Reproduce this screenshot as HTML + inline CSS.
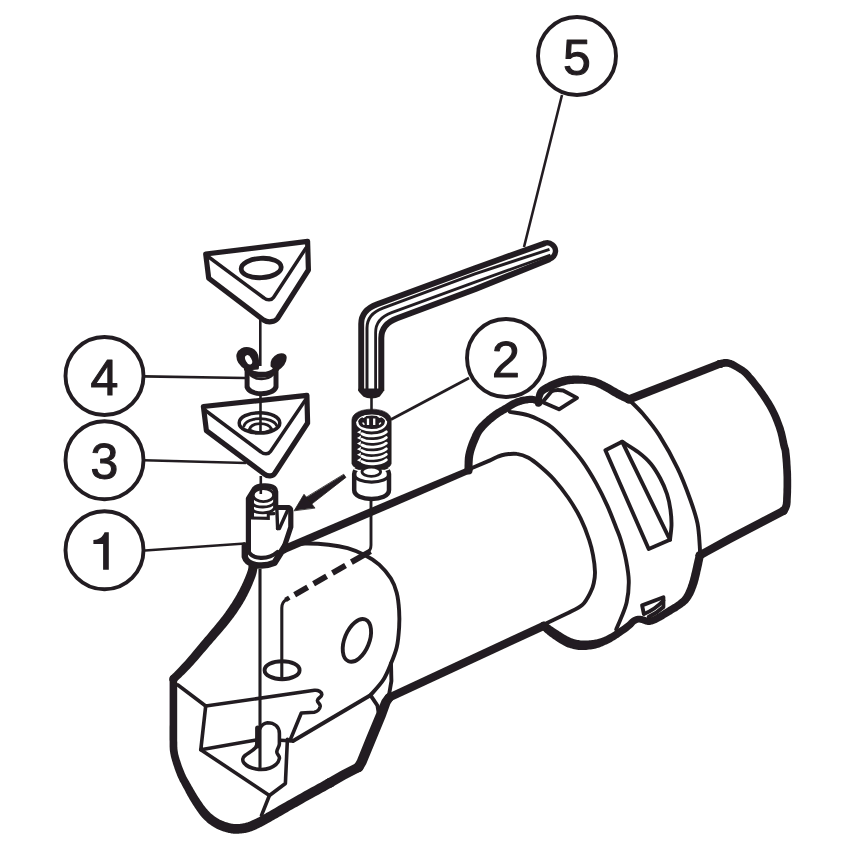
<!DOCTYPE html>
<html><head><meta charset="utf-8">
<style>
html,body{margin:0;padding:0;background:#fff;}
body{width:854px;height:854px;overflow:hidden;font-family:"Liberation Sans",sans-serif;}
svg{display:block}
path,ellipse,circle{stroke-linecap:round;stroke-linejoin:round}
.k{fill:none;stroke:#231f20;stroke-width:5}
.k2{fill:none;stroke:#231f20;stroke-width:5.2}
.k6{fill:none;stroke:#231f20;stroke-width:8.6}
.t2{fill:none;stroke:#231f20;stroke-width:3.9}
.t3{fill:none;stroke:#231f20;stroke-width:3.6}
.m{fill:none;stroke:#231f20;stroke-width:3.5}
.t{fill:none;stroke:#231f20;stroke-width:2.7}
.l{fill:none;stroke:#231f20;stroke-width:2.6;stroke-linecap:butt}
.c{fill:#fff;stroke:#231f20;stroke-width:3.9}
.f{fill:#231f20;stroke:#231f20;stroke-linejoin:round}
text{font-family:"Liberation Sans",sans-serif;font-size:50px;fill:#231f20;stroke:#231f20;stroke-width:1.1;stroke-linejoin:round;text-anchor:middle}
</style></head><body>
<svg width="854" height="854" viewBox="0 0 854 854">
<defs><filter id="soft" x="0" y="0" width="854" height="854" filterUnits="userSpaceOnUse"><feGaussianBlur stdDeviation="0.42"/></filter></defs>
<rect width="854" height="854" fill="#fff"/>
<g filter="url(#soft)">

<g id="leaders">
<path class="l" style="stroke-width:2.8" d="M469.0 378.0L391.0 419.5"/>
<path class="l" d="M562.0 95.0L524.0 247.0"/>
<path class="l" d="M144.0 376.4L245.0 378.0"/>
<path class="l" d="M144.0 460.2L246.0 463.0"/>
<path class="l" d="M145.0 550.5L245.0 543.5"/>
</g>
<g id="callouts">
<circle class="c" cx="577" cy="56" r="39"/>
<text x="577" y="74.5">5</text>
<circle class="c" cx="506" cy="358" r="39"/>
<text x="506" y="376.5">2</text>
<circle class="c" cx="104.5" cy="376" r="39"/>
<text x="104.5" y="394.5">4</text>
<circle class="c" cx="104.5" cy="460.2" r="39"/>
<text x="104.5" y="478.7">3</text>
<circle class="c" cx="104.5" cy="550.2" r="39"/>
<path fill="#231f20" d="M103.1 569.8L103.1 543.9L93.4 543.9L93.4 540C98.5 539.8 102.6 537.3 104.6 532.2L108.8 532.2L108.8 569.8Z"/>
</g>
<g id="body">
<path fill="#231f20" d="M284.6 553.3L391.6 507.6L469.8 473.5L467.2 467.5L388.4 500.4L281.4 546.1Z"/><circle cx="283.0" cy="549.7" r="3.95" fill="#231f20"/><circle cx="468.5" cy="470.5" r="3.25" fill="#231f20"/>
<path fill="#231f20" d="M472.5 470.6L472.6 469.7L472.6 468.4L472.6 467.0L472.6 465.5L472.6 463.8L472.7 462.1L472.8 460.4L472.9 458.8L473.1 457.2L473.3 455.8L473.6 454.5L473.9 453.1L474.3 451.6L474.7 450.2L475.2 448.8L475.7 447.3L476.2 445.9L476.7 444.5L477.3 443.2L477.8 441.9L478.4 440.6L478.9 439.4L479.4 438.2L479.9 437.1L480.4 436.1L480.9 435.1L481.5 434.1L482.1 433.1L482.9 432.1L483.7 431.0L484.6 429.9L485.6 428.8L486.8 427.5L488.0 426.3L489.3 425.1L490.7 423.8L492.0 422.6L493.4 421.5L494.6 420.4L495.8 419.4L497.0 418.5L498.1 417.7L499.2 417.0L500.2 416.3L501.3 415.6L502.4 414.9L503.6 414.3L504.7 413.6L505.9 412.9L507.1 412.2L508.3 411.5L509.5 410.7L510.6 410.0L511.8 409.3L512.9 408.6L514.0 407.9L515.1 407.3L516.1 406.7L517.2 406.2L518.2 405.8L519.2 405.4L520.3 405.0L521.5 404.7L522.6 404.3L523.8 404.1L524.9 403.8L526.0 403.6L527.1 403.4L528.1 403.3L528.9 403.1L529.7 403.0L530.3 403.0L530.9 403.0L531.4 403.0L531.9 403.0L532.3 403.0L532.7 403.1L533.1 403.2L533.5 403.3L533.9 403.4L534.1 403.4L534.3 403.5L534.6 403.7L534.9 403.9L535.2 404.1L535.5 404.4L535.9 404.7L536.2 405.0L536.6 405.3L536.9 405.5L541.1 400.1L541.0 400.0L540.8 399.8L540.5 399.5L540.1 399.1L539.6 398.7L539.1 398.3L538.5 397.8L537.8 397.4L537.0 397.0L536.1 396.6L535.4 396.4L534.8 396.2L534.1 396.1L533.4 395.9L532.6 395.8L531.8 395.7L530.9 395.7L530.0 395.7L529.1 395.8L528.1 395.9L527.0 396.0L525.9 396.2L524.7 396.4L523.5 396.6L522.2 396.8L520.8 397.1L519.5 397.5L518.1 397.9L516.7 398.3L515.4 398.8L514.1 399.4L512.8 400.0L511.5 400.6L510.2 401.3L509.0 402.0L507.8 402.8L506.6 403.5L505.4 404.2L504.3 404.9L503.1 405.6L502.0 406.3L500.9 406.9L499.7 407.5L498.5 408.2L497.3 408.9L496.1 409.6L494.8 410.4L493.6 411.3L492.3 412.2L491.0 413.2L489.6 414.3L488.2 415.4L486.8 416.6L485.4 417.9L483.9 419.2L482.5 420.5L481.1 421.9L479.7 423.3L478.5 424.6L477.3 426.0L476.3 427.3L475.4 428.6L474.6 429.9L473.9 431.1L473.2 432.4L472.6 433.6L472.0 434.9L471.5 436.2L470.9 437.4L470.4 438.7L469.8 440.1L469.2 441.6L468.6 443.1L468.1 444.6L467.5 446.2L467.0 447.8L466.5 449.4L466.1 451.0L465.7 452.7L465.3 454.4L465.0 456.2L464.8 458.0L464.7 459.9L464.6 461.8L464.6 463.6L464.5 465.4L464.5 467.0L464.5 468.4L464.5 469.5L464.5 470.4Z"/><circle cx="468.5" cy="470.5" r="4.05" fill="#231f20"/><circle cx="539.0" cy="402.8" r="3.45" fill="#231f20"/>
<path fill="#231f20" d="M541.5 403.9L541.6 403.4L541.7 402.7L541.8 402.0L541.9 401.2L542.0 400.4L542.1 399.6L542.2 398.8L542.4 398.1L542.5 397.5L542.7 397.0L542.9 396.5L543.1 395.9L543.3 395.5L543.5 395.1L543.7 394.8L543.8 394.5L544.0 394.3L544.3 394.0L544.6 393.8L545.0 393.5L545.5 393.1L546.1 392.7L546.8 392.3L547.6 391.9L548.6 391.4L549.5 391.0L550.5 390.5L551.6 390.1L552.6 389.6L553.7 389.2L554.7 388.8L555.8 388.3L557.0 387.8L558.2 387.4L559.4 387.0L560.6 386.5L561.7 386.1L562.8 385.8L563.9 385.5L564.9 385.2L565.7 384.9L566.5 384.7L567.2 384.6L567.9 384.4L568.5 384.3L569.1 384.2L569.8 384.2L570.5 384.1L571.3 384.0L572.2 383.9L573.2 383.9L574.2 383.8L575.3 383.8L576.4 383.7L577.5 383.7L578.6 383.7L579.7 383.7L580.8 383.7L581.9 383.8L583.0 383.8L584.2 383.9L585.3 384.1L586.4 384.2L587.5 384.3L588.6 384.5L589.7 384.7L590.7 384.9L591.8 385.2L592.8 385.4L593.9 385.8L594.9 386.1L595.9 386.5L597.0 387.0L598.1 387.5L599.2 388.0L600.3 388.6L601.4 389.2L602.6 389.8L603.7 390.5L604.9 391.1L606.0 391.7L607.1 392.3L608.3 393.0L609.4 393.7L610.6 394.4L611.8 395.2L613.0 395.9L614.2 396.6L615.4 397.3L616.5 398.0L617.8 398.6L619.0 399.2L620.3 399.8L621.6 400.4L622.8 401.0L624.0 401.5L625.0 402.0L626.0 402.4L626.8 402.8L627.4 403.1L630.8 395.7L630.2 395.4L629.4 395.0L628.4 394.6L627.4 394.1L626.3 393.6L625.1 393.0L623.9 392.4L622.7 391.8L621.5 391.2L620.5 390.6L619.4 390.1L618.3 389.5L617.2 388.8L616.0 388.1L614.8 387.4L613.6 386.7L612.4 386.0L611.2 385.3L609.9 384.6L608.7 383.9L607.5 383.3L606.3 382.7L605.1 382.1L603.9 381.5L602.7 380.9L601.5 380.3L600.2 379.7L598.9 379.2L597.6 378.7L596.3 378.2L595.0 377.8L593.7 377.5L592.4 377.2L591.1 376.9L589.9 376.7L588.6 376.5L587.4 376.4L586.2 376.2L585.0 376.1L583.8 376.0L582.5 375.8L581.3 375.7L580.0 375.7L578.7 375.6L577.5 375.6L576.3 375.6L575.1 375.6L573.9 375.6L572.8 375.6L571.8 375.7L570.8 375.7L569.9 375.8L569.0 375.8L568.1 375.9L567.3 376.0L566.4 376.2L565.5 376.3L564.6 376.5L563.6 376.7L562.5 377.0L561.4 377.3L560.2 377.7L559.0 378.1L557.8 378.6L556.5 379.1L555.2 379.6L553.9 380.1L552.7 380.6L551.5 381.1L550.3 381.6L549.2 382.1L548.2 382.6L547.1 383.2L546.0 383.7L544.9 384.3L543.8 384.9L542.8 385.5L541.8 386.2L540.9 386.8L540.0 387.5L539.3 388.3L538.6 389.0L538.0 389.8L537.5 390.6L537.1 391.4L536.7 392.2L536.5 392.9L536.3 393.6L536.1 394.3L535.9 395.0L535.7 395.9L535.5 396.9L535.4 397.8L535.3 398.8L535.2 399.8L535.2 400.7L535.1 401.5L535.1 402.2L535.1 402.7L535.1 403.1Z"/><circle cx="538.3" cy="403.5" r="3.25" fill="#231f20"/><circle cx="629.1" cy="399.4" r="4.05" fill="#231f20"/>
<path fill="#231f20" d="M630.6 403.2L721.3 367.6L718.5 360.2L627.6 395.6Z"/><circle cx="629.1" cy="399.4" r="4.05" fill="#231f20"/><circle cx="719.9" cy="363.9" r="3.95" fill="#231f20"/>
<path fill="#231f20" d="M720.7 367.8L721.1 367.7L721.6 367.6L722.1 367.4L722.6 367.3L723.2 367.1L723.7 367.0L724.3 366.9L724.8 366.8L725.2 366.8L725.6 366.7L726.0 366.7L726.4 366.7L726.8 366.8L727.2 366.8L727.5 366.8L727.9 366.9L728.3 367.0L728.7 367.1L729.1 367.2L729.6 367.4L730.2 367.6L730.8 367.9L731.4 368.2L732.1 368.5L732.8 368.9L733.5 369.3L734.2 369.7L735.0 370.1L735.7 370.6L736.5 371.1L737.3 371.6L738.1 372.1L738.9 372.5L739.5 372.9L740.2 373.3L740.8 373.8L741.5 374.3L742.3 375.0L743.2 375.8L744.1 376.8L745.3 378.0L746.5 379.5L747.9 381.0L749.3 382.8L750.8 384.6L752.3 386.4L753.8 388.3L755.2 390.2L756.6 392.1L757.9 393.9L759.2 395.7L760.4 397.5L761.7 399.4L762.9 401.2L764.0 403.1L765.2 404.9L766.3 406.8L767.3 408.6L768.4 410.5L769.3 412.3L770.2 414.1L771.1 415.9L771.9 417.8L772.7 419.7L773.4 421.5L774.2 423.4L774.8 425.2L775.5 427.0L776.1 428.8L776.6 430.5L777.1 432.1L777.6 433.7L778.0 435.4L778.4 437.0L778.7 438.6L779.0 440.1L779.3 441.7L779.6 443.1L779.9 444.5L780.2 445.9L780.5 447.0L780.7 448.0L781.0 448.8L781.2 449.4L781.3 449.8L781.4 450.3L781.6 450.8L781.7 451.5L781.8 452.5L782.0 453.8L782.1 455.5L782.3 457.5L782.5 459.6L782.7 462.0L782.9 464.4L783.0 466.9L783.2 469.5L783.3 472.0L783.4 474.5L783.5 476.9L783.5 479.3L783.5 481.8L783.5 484.3L783.5 486.9L783.4 489.5L783.4 492.0L783.3 494.4L783.2 496.5L783.1 498.5L783.1 500.1L783.0 501.4L782.9 502.4L782.8 503.2L782.8 503.7L782.7 504.1L782.6 504.3L782.6 504.5L782.5 504.8L782.3 505.3L782.2 505.7L782.0 506.0L781.9 506.3L781.8 506.5L781.6 506.8L781.4 507.1L781.2 507.4L780.9 507.7L780.7 508.0L780.4 508.3L780.2 508.6L786.8 513.0L786.9 512.9L787.0 512.7L787.2 512.4L787.5 512.0L787.8 511.5L788.1 511.0L788.5 510.4L788.8 509.7L789.2 509.0L789.4 508.3L789.6 507.8L789.7 507.4L789.9 506.9L790.1 506.3L790.2 505.7L790.4 504.9L790.5 504.1L790.6 503.1L790.7 501.9L790.7 500.5L790.8 498.8L790.9 496.8L791.0 494.6L791.1 492.2L791.1 489.7L791.2 487.1L791.2 484.4L791.2 481.8L791.2 479.2L791.1 476.7L791.1 474.3L791.0 471.7L790.8 469.1L790.7 466.5L790.5 463.9L790.4 461.4L790.2 459.0L790.0 456.8L789.8 454.8L789.6 453.0L789.4 451.5L789.3 450.3L789.1 449.2L788.9 448.4L788.6 447.6L788.4 447.0L788.2 446.4L788.1 445.8L787.8 445.1L787.6 444.1L787.3 442.9L787.1 441.6L786.8 440.2L786.4 438.6L786.1 437.0L785.7 435.3L785.3 433.6L784.9 431.8L784.3 430.0L783.8 428.1L783.2 426.3L782.5 424.5L781.8 422.6L781.1 420.7L780.4 418.8L779.6 416.8L778.7 414.8L777.8 412.8L776.9 410.9L775.9 408.9L774.9 407.0L773.8 405.0L772.6 403.1L771.5 401.1L770.3 399.2L769.0 397.2L767.8 395.3L766.5 393.4L765.2 391.5L763.9 389.7L762.5 387.8L761.1 385.8L759.6 383.9L758.0 381.9L756.5 380.0L755.0 378.1L753.5 376.3L752.0 374.7L750.7 373.1L749.5 371.8L748.3 370.6L747.2 369.6L746.2 368.7L745.2 367.9L744.3 367.3L743.4 366.7L742.6 366.2L741.9 365.8L741.2 365.4L740.5 364.9L739.7 364.4L738.8 363.9L738.0 363.4L737.2 362.9L736.4 362.4L735.5 361.9L734.7 361.5L733.9 361.1L733.1 360.7L732.4 360.4L731.6 360.1L730.9 359.9L730.2 359.7L729.4 359.5L728.8 359.3L728.1 359.2L727.4 359.1L726.8 359.1L726.1 359.1L725.4 359.1L724.6 359.1L723.8 359.1L723.0 359.3L722.3 359.4L721.5 359.5L720.9 359.7L720.3 359.8L719.8 359.9L719.4 360.0L719.1 360.0Z"/><circle cx="719.9" cy="363.9" r="3.95" fill="#231f20"/><circle cx="783.5" cy="510.8" r="3.95" fill="#231f20"/>
<path fill="#231f20" d="M781.6 507.2L758.1 519.4L728.3 534.9L704.8 547.9L697.8 551.7L701.8 558.9L708.8 555.1L732.3 542.3L761.9 526.8L785.4 514.4Z"/><circle cx="783.5" cy="510.8" r="4.05" fill="#231f20"/><circle cx="699.8" cy="555.3" r="4.15" fill="#231f20"/>
<path fill="#231f20" d="M695.7 554.4L695.5 555.3L695.3 556.5L695.0 557.9L694.6 559.5L694.2 561.2L693.8 562.9L693.4 564.7L693.1 566.3L692.7 567.9L692.4 569.3L692.1 570.7L691.8 571.9L691.5 573.1L691.2 574.3L691.0 575.4L690.7 576.5L690.4 577.6L690.1 578.7L689.9 579.7L689.5 580.8L689.2 581.8L688.9 582.9L688.5 584.0L688.1 585.1L687.8 586.2L687.4 587.2L687.0 588.2L686.6 589.2L686.2 590.1L685.8 590.9L685.5 591.7L685.1 592.5L684.7 593.2L684.4 593.9L684.0 594.5L683.7 595.1L683.3 595.7L682.9 596.3L682.5 596.8L682.1 597.3L681.6 597.9L681.1 598.3L680.6 598.8L680.0 599.3L679.3 599.8L678.7 600.3L678.0 600.9L677.3 601.4L676.5 601.9L675.8 602.4L675.1 602.9L674.4 603.4L673.7 603.9L672.9 604.3L672.2 604.8L671.4 605.3L670.6 605.7L669.8 606.2L668.9 606.8L668.0 607.3L667.0 607.9L666.1 608.5L665.0 609.2L664.0 609.8L662.9 610.5L661.9 611.2L660.8 611.8L659.9 612.4L659.0 613.0L658.1 613.5L657.3 613.9L656.6 614.4L655.9 614.8L655.3 615.2L654.7 615.5L654.1 615.8L653.6 616.1L653.1 616.4L652.6 616.6L652.1 616.8L651.6 617.0L651.1 617.2L650.7 617.4L650.3 617.5L649.9 617.6L649.5 617.7L649.2 617.8L648.8 617.8L648.5 617.9L648.2 617.9L648.0 617.8L647.7 617.8L647.3 617.7L646.9 617.5L646.3 617.3L645.7 617.1L645.1 616.9L644.4 616.6L643.7 616.4L643.0 616.2L642.3 616.1L641.8 616.0L641.2 615.9L640.7 615.8L640.1 615.8L639.5 615.7L638.8 615.7L638.2 615.7L637.5 615.8L636.8 615.9L636.2 616.1L635.5 616.2L634.9 616.4L634.3 616.7L633.7 617.0L633.1 617.2L632.6 617.6L632.0 617.9L631.4 618.3L630.9 618.7L630.2 619.2L629.7 619.7L629.2 620.2L628.8 620.6L628.4 621.0L628.1 621.4L627.7 621.8L627.2 622.2L626.6 622.7L625.9 623.3L624.9 624.1L623.6 624.9L622.3 625.9L620.8 627.0L619.2 628.0L617.7 629.1L616.1 630.2L614.6 631.1L613.3 632.0L612.0 632.8L610.9 633.5L609.8 634.1L608.8 634.6L607.9 635.1L607.0 635.6L606.1 636.0L605.2 636.4L604.3 636.8L603.4 637.2L602.5 637.6L601.5 637.9L600.6 638.2L599.7 638.5L598.8 638.8L597.9 639.0L597.1 639.2L596.2 639.4L595.3 639.6L594.3 639.8L593.2 639.9L592.1 640.1L590.9 640.2L589.6 640.3L588.3 640.4L586.9 640.5L585.6 640.5L584.3 640.6L583.0 640.5L581.8 640.5L580.7 640.4L579.6 640.3L578.5 640.1L577.5 639.9L576.5 639.7L575.5 639.5L574.5 639.2L573.5 638.9L572.5 638.5L571.4 638.2L570.4 637.7L569.4 637.3L568.4 636.8L567.2 636.2L566.1 635.6L565.0 634.9L563.8 634.2L562.6 633.5L561.5 632.7L560.4 632.1L559.4 631.4L558.5 630.8L557.6 630.3L556.8 629.8L556.0 629.3L555.2 628.8L554.5 628.3L553.8 627.8L553.1 627.3L552.4 626.8L551.8 626.4L551.2 626.0L550.6 625.6L550.0 625.1L549.4 624.7L548.9 624.3L548.4 623.8L547.9 623.5L547.5 623.1L547.1 622.8L546.7 622.6L541.3 628.8L541.5 629.1L541.8 629.4L542.2 629.8L542.6 630.3L543.1 630.8L543.7 631.3L544.3 631.9L544.9 632.4L545.5 633.0L546.2 633.6L546.9 634.1L547.5 634.7L548.2 635.2L549.0 635.8L549.7 636.4L550.6 637.0L551.4 637.6L552.3 638.3L553.2 638.9L554.2 639.6L555.2 640.2L556.3 640.9L557.4 641.7L558.6 642.5L559.8 643.2L561.1 644.0L562.5 644.8L563.8 645.5L565.2 646.2L566.6 646.9L567.9 647.4L569.2 647.8L570.5 648.3L571.8 648.6L573.1 649.0L574.4 649.3L575.8 649.5L577.1 649.7L578.5 649.9L579.9 650.0L581.4 650.1L583.0 650.1L584.5 650.0L586.1 649.9L587.6 649.8L589.1 649.6L590.6 649.4L592.1 649.2L593.4 648.9L594.8 648.7L596.0 648.4L597.2 648.1L598.4 647.8L599.5 647.4L600.5 647.0L601.6 646.6L602.6 646.2L603.5 645.8L604.5 645.3L605.5 644.8L606.5 644.4L607.5 643.9L608.5 643.5L609.5 643.0L610.5 642.4L611.5 641.9L612.6 641.3L613.7 640.6L614.8 639.9L616.0 639.2L617.3 638.3L618.8 637.4L620.3 636.3L621.9 635.2L623.5 634.1L625.1 633.0L626.6 631.9L628.0 630.9L629.2 629.9L630.3 629.1L631.3 628.3L632.1 627.6L632.8 626.9L633.4 626.3L633.9 625.7L634.2 625.3L634.5 625.0L634.7 624.7L634.9 624.5L635.1 624.3L635.5 624.1L635.8 623.8L636.2 623.6L636.5 623.4L636.8 623.2L637.1 623.1L637.4 622.9L637.7 622.8L637.9 622.8L638.2 622.7L638.4 622.6L638.6 622.6L638.9 622.6L639.2 622.6L639.5 622.6L639.8 622.7L640.2 622.7L640.6 622.8L641.0 622.9L641.4 623.0L641.8 623.1L642.2 623.2L642.6 623.4L643.2 623.6L643.8 623.9L644.4 624.1L645.2 624.4L646.0 624.6L646.8 624.8L647.8 624.9L648.6 625.0L649.4 624.9L650.1 624.9L650.8 624.8L651.5 624.6L652.2 624.5L652.9 624.3L653.5 624.1L654.2 623.8L654.9 623.6L655.5 623.3L656.2 623.0L656.9 622.7L657.6 622.3L658.3 622.0L658.9 621.6L659.6 621.2L660.4 620.8L661.1 620.4L661.9 619.9L662.8 619.4L663.7 618.9L664.8 618.3L665.8 617.6L666.9 617.0L668.0 616.3L669.0 615.7L670.1 615.0L671.1 614.4L672.0 613.9L672.9 613.3L673.7 612.8L674.6 612.3L675.4 611.8L676.2 611.4L677.0 610.9L677.8 610.4L678.6 609.8L679.4 609.3L680.2 608.8L681.0 608.2L681.7 607.7L682.5 607.2L683.3 606.6L684.1 606.0L684.9 605.4L685.7 604.8L686.4 604.1L687.2 603.4L687.9 602.7L688.6 601.9L689.2 601.1L689.8 600.4L690.4 599.6L690.9 598.8L691.4 598.0L691.9 597.1L692.4 596.3L692.9 595.4L693.4 594.5L693.8 593.5L694.3 592.4L694.8 591.3L695.2 590.2L695.6 589.1L696.1 587.9L696.5 586.8L696.9 585.6L697.3 584.4L697.7 583.2L698.0 582.1L698.3 580.9L698.7 579.7L698.9 578.6L699.2 577.4L699.5 576.2L699.8 575.0L700.1 573.8L700.3 572.6L700.6 571.3L701.0 569.8L701.3 568.2L701.7 566.5L702.1 564.7L702.4 563.0L702.8 561.3L703.1 559.7L703.4 558.3L703.7 557.1L703.9 556.2Z"/><circle cx="699.8" cy="555.3" r="4.15" fill="#231f20"/><circle cx="544.0" cy="625.7" r="4.15" fill="#231f20"/>
<path fill="#231f20" d="M542.3 622.0L387.4 693.9L390.8 701.3L545.7 629.4Z"/><circle cx="544.0" cy="625.7" r="4.05" fill="#231f20"/><circle cx="389.1" cy="697.6" r="4.05" fill="#231f20"/>
<path fill="#231f20" d="M385.4 695.0L381.7 700.0L376.2 713.2L366.5 736.6L357.0 760.0L354.2 764.8L362.8 769.8L366.2 764.0L375.9 740.4L385.6 717.0L390.3 704.0L392.8 700.2Z"/><circle cx="389.1" cy="697.6" r="4.50" fill="#231f20"/><circle cx="358.5" cy="767.3" r="4.95" fill="#231f20"/>
<path fill="#231f20" d="M356.3 763.0L341.1 770.7L327.6 778.6L332.4 787.0L345.7 779.3L360.7 771.6Z"/><circle cx="358.5" cy="767.3" r="4.85" fill="#231f20"/><circle cx="330.0" cy="782.8" r="4.85" fill="#231f20"/>
<path fill="#231f20" d="M327.7 778.6L325.9 779.5L323.5 780.8L320.7 782.4L317.6 784.1L314.3 785.9L310.8 787.8L307.3 789.7L304.0 791.6L300.8 793.4L297.9 795.0L295.3 796.5L292.7 797.9L290.1 799.4L287.6 800.8L285.2 802.2L282.9 803.5L280.6 804.8L278.4 806.1L276.4 807.3L274.4 808.4L272.5 809.4L270.8 810.4L269.2 811.4L267.7 812.3L266.3 813.1L264.9 813.9L263.6 814.6L262.3 815.3L261.0 816.0L259.7 816.7L258.4 817.4L257.2 818.0L255.9 818.7L254.7 819.3L253.6 819.8L252.4 820.3L251.3 820.8L250.3 821.3L249.3 821.7L248.3 822.0L247.4 822.4L246.6 822.6L245.8 822.8L245.1 823.0L244.3 823.2L243.6 823.3L242.8 823.5L242.1 823.6L241.3 823.7L240.5 823.8L239.6 823.9L238.8 824.0L238.0 824.0L237.3 824.1L236.6 824.1L235.9 824.1L235.1 824.1L234.4 824.0L233.6 823.9L232.8 823.8L231.9 823.7L230.9 823.4L229.8 823.2L228.7 822.9L227.5 822.6L226.4 822.3L225.3 821.9L224.2 821.5L223.2 821.1L222.2 820.7L221.3 820.3L220.4 819.9L219.5 819.5L218.7 819.0L217.9 818.6L217.0 818.1L216.3 817.6L215.5 817.0L214.7 816.4L213.9 815.8L213.1 815.2L212.3 814.6L211.6 814.0L210.9 813.4L210.2 812.7L209.5 812.0L208.8 811.3L208.0 810.5L207.3 809.6L206.5 808.7L205.7 807.7L204.8 806.6L203.9 805.4L203.0 804.2L202.1 802.8L201.2 801.5L200.3 800.2L199.4 798.8L198.5 797.5L197.7 796.2L196.9 795.0L196.2 793.8L195.4 792.6L194.7 791.3L194.0 790.1L193.3 788.9L192.6 787.6L191.9 786.4L191.2 785.2L190.6 784.1L189.9 782.9L189.3 781.8L188.7 780.7L188.1 779.7L187.5 778.7L187.0 777.7L186.4 776.7L185.9 775.7L185.4 774.6L184.9 773.5L184.4 772.3L183.9 771.1L183.4 769.8L182.9 768.5L182.4 767.2L181.9 765.9L181.4 764.5L181.0 763.3L180.6 762.0L180.2 760.8L179.8 759.7L179.5 758.7L179.2 757.6L178.9 756.7L178.7 755.7L178.4 754.8L178.2 753.9L178.0 753.0L177.9 752.1L177.7 751.1L177.6 750.2L177.5 749.3L177.4 748.4L177.4 747.5L177.3 746.6L177.3 745.6L177.3 744.6L177.3 743.4L177.3 742.2L177.2 740.9L177.2 739.6L177.2 738.3L177.2 736.9L177.2 735.4L177.2 733.9L177.2 732.3L177.2 730.6L177.2 728.9L177.2 727.0L177.2 725.0L177.2 722.8L177.2 720.5L177.2 718.0L177.2 715.5L177.2 712.8L177.2 710.1L177.2 707.5L177.2 704.9L177.2 702.4L177.2 700.0L177.2 697.6L177.2 695.2L177.2 692.7L177.2 690.3L177.2 687.9L177.2 685.7L177.2 683.6L177.2 681.8L177.2 680.2L177.2 679.0L169.6 679.0L169.6 680.2L169.6 681.8L169.6 683.6L169.6 685.7L169.6 687.9L169.6 690.3L169.6 692.7L169.6 695.2L169.6 697.6L169.6 700.0L169.6 702.4L169.6 704.9L169.6 707.5L169.6 710.1L169.6 712.8L169.6 715.5L169.6 718.0L169.6 720.5L169.6 722.8L169.6 725.0L169.5 727.0L169.5 728.8L169.5 730.6L169.5 732.3L169.5 733.9L169.5 735.4L169.5 736.9L169.5 738.3L169.5 739.7L169.6 741.1L169.6 742.3L169.6 743.5L169.6 744.7L169.6 745.8L169.6 746.8L169.7 747.9L169.7 748.9L169.8 750.0L169.9 751.1L170.1 752.3L170.3 753.4L170.5 754.5L170.7 755.6L170.9 756.6L171.2 757.7L171.5 758.7L171.8 759.8L172.1 760.9L172.5 762.0L172.8 763.2L173.2 764.4L173.6 765.7L174.1 767.1L174.5 768.4L175.0 769.8L175.5 771.3L176.1 772.7L176.6 774.0L177.1 775.4L177.7 776.7L178.2 777.9L178.8 779.1L179.3 780.3L179.9 781.4L180.5 782.5L181.1 783.6L181.6 784.6L182.2 785.7L182.8 786.8L183.4 787.9L184.1 789.1L184.7 790.3L185.4 791.6L186.0 792.9L186.7 794.1L187.4 795.4L188.2 796.8L188.9 798.1L189.7 799.4L190.5 800.8L191.3 802.1L192.2 803.5L193.1 804.9L194.0 806.3L194.9 807.7L195.8 809.1L196.8 810.5L197.7 811.8L198.6 813.1L199.5 814.3L200.4 815.4L201.3 816.4L202.1 817.4L202.9 818.3L203.8 819.2L204.6 820.0L205.5 820.8L206.3 821.6L207.2 822.4L208.1 823.2L209.1 823.9L210.0 824.6L211.0 825.3L212.0 826.0L213.0 826.6L214.0 827.2L215.1 827.8L216.2 828.4L217.3 828.9L218.4 829.5L219.6 830.0L220.9 830.5L222.2 830.9L223.5 831.4L224.8 831.8L226.1 832.2L227.4 832.5L228.7 832.9L230.0 833.1L231.2 833.4L232.4 833.6L233.5 833.7L234.7 833.8L235.7 833.8L236.8 833.8L237.8 833.8L238.7 833.7L239.7 833.6L240.6 833.5L241.5 833.4L242.5 833.3L243.4 833.2L244.4 833.1L245.3 832.9L246.3 832.7L247.3 832.5L248.3 832.2L249.4 831.9L250.5 831.6L251.7 831.2L252.8 830.7L254.0 830.2L255.2 829.7L256.5 829.2L257.7 828.6L259.0 828.0L260.3 827.3L261.6 826.7L262.9 826.0L264.3 825.3L265.6 824.6L267.0 823.8L268.3 823.1L269.7 822.3L271.1 821.5L272.6 820.6L274.1 819.8L275.7 818.8L277.4 817.9L279.2 816.8L281.2 815.7L283.3 814.5L285.4 813.2L287.7 812.0L290.0 810.6L292.4 809.2L294.9 807.8L297.5 806.4L300.0 804.9L302.7 803.4L305.5 801.8L308.7 800.1L312.0 798.2L315.5 796.3L319.0 794.4L322.3 792.6L325.4 790.9L328.2 789.3L330.5 788.0L332.3 787.0Z"/><circle cx="330.0" cy="782.8" r="4.85" fill="#231f20"/><circle cx="173.4" cy="679.0" r="3.85" fill="#231f20"/>
<path fill="#231f20" d="M176.3 681.9L177.1 681.0L178.2 680.0L179.5 678.8L181.0 677.4L182.6 675.8L184.3 674.2L186.0 672.4L187.9 670.6L189.7 668.7L191.5 666.7L193.4 664.7L195.3 662.5L197.4 660.2L199.5 657.8L201.6 655.3L203.7 652.8L205.8 650.4L207.9 648.0L209.9 645.6L211.8 643.4L213.6 641.3L215.5 639.2L217.3 637.1L219.1 635.0L220.9 632.9L222.6 630.9L224.2 629.0L225.8 627.2L227.2 625.4L228.6 623.8L229.8 622.2L230.9 620.8L231.9 619.6L232.8 618.3L233.7 617.2L234.5 616.1L235.2 615.0L236.0 613.9L236.7 612.9L237.5 611.7L238.3 610.5L239.1 609.3L239.9 608.1L240.7 606.9L241.4 605.8L242.2 604.6L242.9 603.4L243.6 602.1L244.3 600.9L245.0 599.7L245.7 598.4L246.4 597.1L247.1 595.9L247.7 594.6L248.4 593.3L249.0 592.0L249.6 590.7L250.2 589.5L250.8 588.2L251.3 587.0L251.9 585.7L252.4 584.5L252.9 583.2L253.4 582.0L253.9 580.7L254.4 579.5L254.9 578.3L255.3 577.2L255.7 576.1L256.0 575.1L256.3 574.0L256.6 572.9L256.8 571.9L257.0 571.0L257.2 570.1L257.3 569.3L257.4 568.7L257.5 568.1L257.5 567.6L257.6 567.3L248.8 565.5L248.7 566.0L248.6 566.6L248.5 567.1L248.4 567.8L248.2 568.4L248.1 569.1L247.9 569.9L247.7 570.6L247.4 571.4L247.2 572.1L246.9 573.0L246.5 574.0L246.1 575.0L245.7 576.1L245.2 577.2L244.7 578.4L244.2 579.5L243.7 580.7L243.2 581.9L242.7 583.0L242.1 584.2L241.6 585.4L241.0 586.6L240.4 587.8L239.8 589.0L239.2 590.2L238.5 591.4L237.9 592.6L237.2 593.8L236.6 594.9L235.9 596.1L235.3 597.2L234.6 598.3L233.9 599.5L233.2 600.6L232.5 601.7L231.8 602.9L231.0 604.0L230.3 605.1L229.5 606.3L228.7 607.4L228.0 608.5L227.3 609.5L226.6 610.6L225.9 611.6L225.1 612.7L224.3 613.8L223.4 615.0L222.3 616.4L221.2 617.8L219.9 619.4L218.5 621.2L217.0 623.0L215.4 624.9L213.8 626.9L212.0 629.0L210.3 631.1L208.5 633.2L206.7 635.4L204.8 637.6L203.0 639.8L201.0 642.1L199.0 644.6L196.9 647.1L194.8 649.5L192.7 652.0L190.7 654.4L188.7 656.7L186.8 658.9L185.1 660.9L183.4 662.8L181.7 664.6L179.9 666.5L178.3 668.2L176.6 669.9L175.1 671.4L173.7 672.9L172.5 674.1L171.4 675.2L170.5 676.1Z"/><circle cx="173.4" cy="679.0" r="4.05" fill="#231f20"/><circle cx="253.2" cy="566.4" r="4.45" fill="#231f20"/>
<path class="t2" d="M472 468L490 460.4C491.2 459.8 495.0 457.8 497.5 456.8C500.0 455.8 501.9 455.0 505.1 454.5C508.3 454.0 512.9 453.3 516.8 453.9C520.7 454.4 524.6 455.7 528.5 457.8C532.4 459.9 536.0 462.9 540.3 466.5C544.5 470.1 549.4 474.3 554.0 479.5C558.6 484.7 563.6 491.0 568.1 497.5C572.6 504.0 577.2 511.5 580.7 518.6C584.2 525.7 587.2 533.9 589.2 540.0C591.2 546.1 592.0 549.7 593.0 555.0C594.0 560.3 594.9 567.3 595.0 572.0C595.1 576.7 594.5 579.7 593.8 583.0C593.1 586.3 592.7 588.1 590.8 591.7C588.9 595.3 586.3 601.1 582.6 604.6C578.9 608.1 570.9 611.4 568.5 612.8L547 622.9"/>
<path class="t2" d="M509.8 411.8C512.9 412.4 523.3 413.8 528.5 415.3C533.7 416.8 537.1 418.8 541.0 420.8C544.9 422.9 547.4 423.7 552.0 427.6C556.6 431.5 563.5 438.6 568.5 444.2C573.5 449.8 577.6 454.4 582.2 460.9C586.8 467.4 592.0 475.9 596.2 483.4C600.4 490.9 604.1 498.6 607.4 505.9C610.7 513.2 613.7 521.3 615.9 527.0C618.1 532.7 619.1 534.5 620.8 540.0C622.5 545.5 624.7 553.1 626.0 560.0C627.3 566.9 628.7 574.1 628.8 581.1C628.9 588.1 628.0 596.0 626.7 602.2C625.4 608.4 622.8 613.6 621.0 618.1C619.2 622.6 617.0 627.5 616.2 629.4"/>
<path class="t2" d="M629.1 399.8C631.5 402.2 638.2 408.3 643.3 414.3C648.4 420.3 653.8 426.6 659.5 435.6C665.2 444.6 672.5 457.7 677.6 468.4C682.8 479.1 687.1 490.8 690.4 500.0C693.7 509.2 695.9 515.6 697.5 523.4C699.1 531.2 699.4 541.7 699.8 546.8C700.2 551.9 699.8 552.8 699.8 554.0"/>
<path class="t2" d="M605.4 450.3L622.1 441.7L670 539.8L648.7 549Z"/>
<path class="t2" d="M622.1 441.7C624.8 443.5 633.6 448.6 638.4 452.3C643.2 456.0 647.4 459.6 651.0 464.0C654.6 468.4 657.6 473.5 660.3 478.5C663.0 483.5 665.3 488.8 667.0 494.0C668.7 499.2 669.8 504.8 670.5 510.0C671.2 515.2 671.6 520.0 671.5 525.0C671.4 530.0 670.2 537.3 670.0 539.8"/>
<path class="t2" d="M543.4 401.1L551.6 391.3C555 389.5 559 389.7 563.1 390.5L577 397.9L559 409.3L543.4 402.5"/>
<path class="t2" d="M643.8 613.6L642.1 605.4L663.4 597.2L663.4 607C659 611 654 614.5 648.7 616.9"/>
<path class="t2" d="M644 614C651 611 658 606.5 663.4 600.5"/>
<path class="t2" d="M284.0 549.3C285.7 548.6 290.5 546.3 294.0 545.3C297.5 544.3 299.4 543.6 305.1 543.5C310.9 543.4 321.4 543.9 328.5 544.7C335.6 545.5 341.5 546.5 347.6 548.2C353.7 550.0 359.8 552.5 365.1 555.2C370.4 557.9 374.9 560.7 379.2 564.6C383.5 568.5 388.0 573.9 390.9 578.6C393.8 583.3 395.3 587.4 396.7 592.7C398.1 598.0 398.7 604.4 399.1 610.3C399.5 616.1 399.5 621.7 399.1 627.8C398.7 633.9 398.2 641.0 396.8 647.0C395.4 653.0 393.3 658.0 391.0 663.5C388.7 669.0 386.6 674.7 383.2 680.0C379.8 685.3 372.5 692.7 370.4 695.2L293 741"/>
<path class="t2" d="M391 663.5L391.4 681L389 695"/>
<path class="t2" d="M370.4 695.2L377.4 705.5L378.5 712"/>
<path class="l" style="stroke-width:2.9" d="M371 500L371 545C371 548.5 369.8 550.8 367.5 552.4"/>
<path class="k" style="stroke-width:5.8;stroke-dasharray:22 6.8 15 6.8 15 6.8 15 6.8;stroke-linecap:butt" d="M370.5 551.2L293 595.6"/>
<path class="k" style="stroke-width:4.6;stroke-linecap:butt" d="M289.3 597.6L285.5 600"/>
<path class="l" style="stroke-width:3.1;stroke-linecap:round" d="M286.5 599.3C283 601.5 281.8 604 281.8 608L281.8 679"/>
<ellipse class="t2" cx="282.1" cy="670.2" rx="17.5" ry="9"/>
<ellipse class="t2" cx="356.9" cy="640.4" rx="12.3" ry="22.5" transform="rotate(22 356.9 640.4)"/>
<path class="t3" d="M177.9 685L205.7 706L314.5 690.3C318.5 690 321.8 692 321.8 694.6C321.6 697.4 317.4 698 317.4 700.4C317.4 703 320.4 703.6 320.2 706.2C319.8 709.5 317 711.8 314.2 712.2L301.3 713L290 740.5"/>
<path class="t3" d="M205.7 706L200.8 749.7L257.5 739.7"/>
<path class="t3" d="M200.8 749.7L269.4 795.5L261.5 815.4"/>
<path class="t3" d="M269.4 795.5L285.4 783.5L287.4 739.3"/>
<path class="t3" d="M280.4 740.2L293 741"/>
<path class="t3" d="M257.5 740C257 731 261 723.5 267.4 722.8C274.5 722.8 279.2 727 279.4 733.5L279.4 743.7C279.4 747 276.8 749 276.8 752C276.8 754.5 280 755.5 279.4 758.5C278.5 763 275 766 270 768C266 769.5 261.5 770 256 769C250.5 768 246.5 766 244 763C242 760.5 242.5 757.5 245 755.5C248 753 252.5 751 255.5 747.7C257 745.5 257.5 743 257.5 740Z"/>
<path class="k" style="stroke-width:5;stroke-linecap:round" d="M257.6 728L257.6 746"/>
</g>
<g id="hexkey">
<path class="t" style="stroke-width:5.9;stroke-linecap:butt" d="M361.2 391L361.2 324.1C361.2 315.0 366.8 308.1 377.1 304.3L475 268.2L545.0 243.2"/>
<path class="t" style="stroke-width:3.0;stroke-linecap:butt" d="M367.0 391L367.0 328.0C367.0 318.9 372.6 311.9 382.9 308.1L475 273.9L549.5 249.3"/>
<path class="t" style="stroke-width:2.8;stroke-linecap:butt" d="M375.6 391L375.6 332.5C375.6 323.4 381.2 316.4 391.6 312.6L475 282.1L550.5 255.0"/>
<path class="t" style="stroke-width:6.0;stroke-linecap:butt" d="M381.3 391L381.3 338.1C381.3 329.0 386.9 322.0 397.2 318.2L475 289.3L549.5 259.2"/>
<path class="t" style="stroke-width:5.4" d="M545.0 243.2C550.5 241.5 556 246.5 555.5 251.5C555.2 254.5 553.5 257.5 549.5 259.2"/>
<path class="t" style="stroke-width:5.4" d="M361.2 390.5L365 394.5C368 396.3 375 396.3 378 394.5L381 390.5"/>
<path class="f" stroke-width="1" d="M359 389L383.5 389L380 394.5C377 397.5 366 397.5 362.5 394.5Z"/>
</g>
<g id="insert">
<path class="k2" d="M205.7 254L307.6 241.4L308.4 270L277.5 318.5C275 322 268 323 263.5 320L208.7 278.3Z"/>
<path class="m" d="M208 256.5L264 298C267 300.5 271.5 300.5 273.5 297.5L306 248"/>
<ellipse class="k2" style="stroke-width:4.8" cx="261.2" cy="268" rx="20" ry="9.7" transform="rotate(-3 261.2 268)"/>
</g>
<g id="clip">
<path class="k" style="stroke-width:5" d="M247.1 370L247.1 387C250.5 396 272.5 396 276 387L276 370"/>
<path class="k" style="stroke-width:6" d="M247 369C252 376.8 271 376.8 276 369"/>
<path class="t" style="stroke-width:2.4" d="M250 374.8C255 380.3 268 380.3 273 374.8"/>
<path class="f" stroke-width="2" d="M247 369.5C240 365.5 236.5 359.5 237.5 354.5C239 349.5 244 347.3 249 348.3C254 349.3 257.3 353.3 257.8 358.3C258.3 362.3 258.3 365.3 257.8 368.5Z"/>
<ellipse cx="248.6" cy="359.8" rx="2.9" ry="5" transform="rotate(-28 248.6 359.8)" fill="#fff"/>
<path class="f" stroke-width="2" d="M271.5 366C271 361 274 357 278 355C282 353.3 285.7 354.3 285.7 357.8C285.7 361.8 282 366.8 277 370.3Z"/>
</g>
<g id="shim">
<path class="k2" d="M203.4 406.5L306.9 395.4L307.6 423L275 473C273 476.5 268 477 264.3 474L206.4 430.7Z"/>
<path class="m" d="M205.5 410.5L261 452C264 454.5 268.5 454.5 270.5 451.5L305.4 400"/>
<ellipse class="m" cx="259.5" cy="422.9" rx="20.3" ry="10.2"/>
<path class="t" style="stroke-width:2.9" d="M244 426C246.5 416.3 273 416.3 276.6 425.5"/>
<path class="t" style="stroke-width:2.9" d="M249.5 429.3C252 421.8 268 421.8 271.5 429"/>
<path class="t" style="stroke-width:2.4" d="M251 430.3C256 433 265 433 270 430.3"/>
</g>
<g id="pin">
<path fill="#fff" d="M248.4 552L248.4 498L254.5 488.5C258 484.5 270 484.5 274 487.5L275.7 491L275.7 507.5L289 507.5L290.8 510L290.8 527L284.5 546L276 556C268 560 254 559 248.4 552Z"/>
<path class="k2" style="stroke-width:5.2" d="M248.4 550L248.4 498.5L254.3 489C258 485 270 485 274 488C275.2 489 275.7 490 275.7 491.5L275.7 507.5L288.5 507.5C290 508 290.8 509.3 290.8 511L290.8 527L284.5 546"/>
<ellipse cx="263.4" cy="495.2" rx="10.2" ry="6.5" fill="#fff" stroke="#231f20" stroke-width="2.8"/>
<path class="m" style="stroke-width:3.2;stroke-linecap:butt" d="M252.4 496L252.4 518.5"/>
<path class="m" style="stroke-width:2.9" d="M252.4 503.6C256 508.3 270 508.3 274 503"/>
<path class="m" style="stroke-width:2.9" d="M252.4 509.6C256 514 270 514 274 509"/>
<path class="m" style="stroke-width:3.1;stroke-linejoin:miter" d="M251.5 518L268.3 518.3L268.3 514L274 513.6"/>
<path class="m" style="stroke-width:3.4" d="M276.8 507.5L277.6 528.5"/>
<path class="m" style="stroke-width:3.4" d="M287.3 511L279.4 528.5L277.5 528.5"/>
<path class="k2" style="stroke-width:6.4" d="M244.8 545.5L244.8 556.8C247 565.6 262 568 274.5 562.8L285 546"/>
<path class="m" style="stroke-width:4.2" d="M248.4 551C252 559.5 268 560.3 277.5 552"/>
</g>
<g id="screw">
<path d="M354.2 474L354.2 490C354.2 502 389 502 389 490L389 474C389 462 354.2 462 354.2 474Z" fill="#fff" stroke="#231f20" stroke-width="4.5"/>
<path class="m" style="stroke-width:3.2" d="M354.2 474C354.2 484.7 389 484.7 389 474"/>
<path class="f" stroke-width="0.6" d="M351.9 420C351.9 405.5 391.2 405.5 391.2 420L391.2 463.5C391.2 472.5 351.9 472.5 351.9 463.5Z"/>
<path style="fill:none;stroke:#fff;stroke-linecap:round;stroke-width:1.5" d="M351.2 465.3C352.5 474.3 390.5 474.3 391.9 465.3"/>
<ellipse cx="371.3" cy="471.8" rx="9.3" ry="4.6" fill="#fff" stroke="#231f20" stroke-width="2.8"/>
<path class="f" stroke-width="0.5" d="M360.5 462L382.3 462L382.3 469.5C378 466.8 365 466.8 360.5 469.5Z"/>
<path style="fill:none;stroke:#fff;stroke-linecap:round;stroke-width:2.4" d="M357.3 422.5C358 433 385.5 433 386 422"/>
<path style="fill:none;stroke:#fff;stroke-linecap:round;stroke-width:1.1" d="M357.3 422.5C358 412.5 385.5 412.5 386 422"/>
<path style="fill:none;stroke:#fff;stroke-linecap:round;stroke-width:2.3;stroke-linecap:butt" d="M368 418.5L368 425"/>
<path style="fill:none;stroke:#fff;stroke-linecap:round;stroke-width:2.3;stroke-linecap:butt" d="M374.2 418.5L374.2 425"/>
<path style="fill:none;stroke:#fff;stroke-linecap:round;stroke-width:1.5" d="M363.3 417.3L365.3 415.8M378 416L380 417.3M363 423L364 424.2M379.5 424L380.5 423"/>
<path style="fill:none;stroke:#fff;stroke-linecap:round;stroke-width:2.9" d="M362 433.7C367 436.9 380 436.7 386.3 431.9"/>
<path fill="#fff" d="M357 432.3L361 429.9L360.5 434.1Z"/>
<path style="fill:none;stroke:#fff;stroke-linecap:round;stroke-width:2.9" d="M362 439.4C367 442.6 380 442.4 386.3 437.6"/>
<path fill="#fff" d="M357 438.0L361 435.6L360.5 439.8Z"/>
<path style="fill:none;stroke:#fff;stroke-linecap:round;stroke-width:2.9" d="M362 445.0C367 448.2 380 448.0 386.3 443.2"/>
<path fill="#fff" d="M357 443.6L361 441.2L360.5 445.4Z"/>
<path style="fill:none;stroke:#fff;stroke-linecap:round;stroke-width:2.9" d="M362 450.6C367 453.8 380 453.6 386.3 448.8"/>
<path fill="#fff" d="M357 449.2L361 446.8L360.5 451.0Z"/>
<path style="fill:none;stroke:#fff;stroke-linecap:round;stroke-width:2.9" d="M362 456.2C367 459.4 380 459.2 386.3 454.4"/>
<path fill="#fff" d="M357 454.8L361 452.4L360.5 456.6Z"/>
<path style="fill:none;stroke:#fff;stroke-linecap:round;stroke-width:2.9" d="M362 461.6C367 464.8 380 464.6 386.3 459.8"/>
<path fill="#fff" d="M357 460.2L361 457.8L360.5 462.0Z"/>
</g>
<g id="arrow">
<path class="f" stroke-width="0.8" d="M343.9 474.6L345.9 477.4L311 504.6L306 497.8Z"/>
<path class="f" stroke-width="0.8" d="M294.3 510.5L304 494.3L314.8 507.8Z"/>
</g>
<g id="axes">
<path class="l" d="M260.3 320.0L260.3 366.0"/>
<path class="l" d="M260.5 393.0L260.5 432.0"/>
<path class="l" d="M260.8 476.0L260.8 494.0"/>
<path class="l" style="stroke-width:3.1" d="M260.0 569.0L260.0 768.5"/>
<path class="l" d="M371.5 397.0L371.5 411.0"/>
</g>
</g>
</svg>
</body></html>
